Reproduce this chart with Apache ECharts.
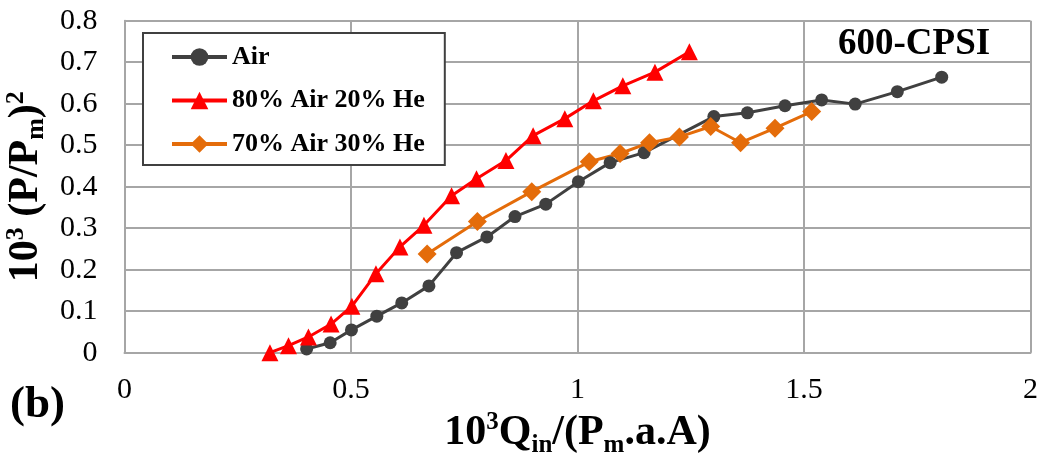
<!DOCTYPE html>
<html>
<head>
<meta charset="utf-8">
<script src="https://cdn.jsdelivr.net/npm/echarts@6/dist/echarts.min.js"></script>
<style>
  html, body { margin: 0; padding: 0; background: #ffffff; }
  #chart { width: 1043px; height: 459px; }
</style>
</head>
<body>
<div id="chart"></div>
<script>
// Pressure drop vs. inlet flow, 600-CPSI substrate, three gas mixtures
const seriesNames = ['Air', '80% Air 20% He', '70% Air 30% He'];

const airX = [0.402, 0.454, 0.501, 0.557, 0.612, 0.672, 0.733, 0.800, 0.862, 0.930, 1.002,
              1.072, 1.147, 1.301, 1.375, 1.458, 1.539, 1.613, 1.706, 1.804];
const airY = [0.009, 0.024, 0.055, 0.088, 0.120, 0.161, 0.241, 0.279, 0.328, 0.358, 0.412,
              0.458, 0.482, 0.569, 0.578, 0.595, 0.609, 0.599, 0.629, 0.664];

const he20X = [0.321, 0.362, 0.406, 0.456, 0.502, 0.555, 0.608, 0.661, 0.722, 0.777, 0.842,
               0.902, 0.972, 1.035, 1.100, 1.171, 1.247];
const he20Y = [0.000, 0.017, 0.038, 0.069, 0.112, 0.190, 0.255, 0.307, 0.378, 0.419, 0.463,
               0.523, 0.564, 0.607, 0.643, 0.676, 0.725];

const he30X = [0.668, 0.779, 0.899, 1.026, 1.094, 1.159, 1.225, 1.294, 1.360, 1.436, 1.517];
const he30Y = [0.238, 0.316, 0.388, 0.460, 0.480, 0.506, 0.520, 0.545, 0.506, 0.541, 0.581];

const pair = (xs, ys) => xs.map((x, i) => [x, ys[i]]);

const gridColor = '#a6a6a6';
const serif = '"Liberation Serif", "Times New Roman", serif';

const chart = echarts.init(document.getElementById('chart'), null, { renderer: 'canvas' });

chart.setOption({
  animation: false,
  backgroundColor: '#ffffff',
  grid: { left: 124.5, right: 12.5, top: 20.7, bottom: 106.3, containLabel: false, outerBoundsMode: 'none' },
  legend: {
    orient: 'vertical',
    left: 143,
    top: 33,
    padding: [11, 20, 8, 27],
    itemGap: 17.5,
    itemWidth: 55,
    itemHeight: 22,
    backgroundColor: '#ffffff',
    borderColor: '#404040',
    borderWidth: 2,
    borderRadius: 0,
    lineStyle: { width: 4 },
    textStyle: { fontFamily: serif, fontWeight: 'bold', fontSize: 26, color: '#000000' },
    data: seriesNames
  },
  xAxis: {
    type: 'value',
    min: 0, max: 2, interval: 0.5,
    axisLine: { show: true, lineStyle: { color: gridColor, width: 2 } },
    axisTick: { show: false },
    splitLine: { show: true, lineStyle: { color: gridColor, width: 2 } },
    axisLabel: { fontFamily: serif, fontSize: 30, color: '#000000', margin: 22 },
    name: '{b|10}{sup|3}{b|Q}{sub|in}{b|/(P}{sub|m}{b|.a.A)}',
    nameLocation: 'middle',
    nameGap: 54,
    nameTextStyle: {
      rich: {
        b: { fontFamily: serif, fontWeight: 'bold', fontSize: 42, color: '#000000', lineHeight: 48 },
        sup: { fontFamily: serif, fontWeight: 'bold', fontSize: 25, color: '#000000', verticalAlign: 'top', lineHeight: 48, padding: [0, 0, 10, 0] },
        sub: { fontFamily: serif, fontWeight: 'bold', fontSize: 25, color: '#000000', verticalAlign: 'bottom', lineHeight: 48, padding: [10, 0, 0, 0] }
      }
    }
  },
  yAxis: {
    type: 'value',
    min: 0, max: 0.8, interval: 0.1,
    axisLine: { show: true, lineStyle: { color: gridColor, width: 2 } },
    axisTick: { show: false },
    splitLine: { show: true, lineStyle: { color: gridColor, width: 2 } },
    axisLabel: { fontFamily: serif, fontSize: 30, color: '#000000', margin: 27 },
    name: '{b|10}{sup|3}{b| (P/P}{sub|m}{b|)}{sup|2}',
    nameLocation: 'middle',
    nameRotate: 90,
    nameGap: 60,
    nameTextStyle: {
      rich: {
        b: { fontFamily: serif, fontWeight: 'bold', fontSize: 42, color: '#000000', lineHeight: 46 },
        sup: { fontFamily: serif, fontWeight: 'bold', fontSize: 26, color: '#000000', verticalAlign: 'top', lineHeight: 46, padding: [0, 0, 10, 0] },
        sub: { fontFamily: serif, fontWeight: 'bold', fontSize: 26, color: '#000000', verticalAlign: 'bottom', lineHeight: 46, padding: [10, 0, 0, 0] }
      }
    }
  },
  graphic: [
    {
      type: 'text', left: 838, top: 26,
      style: { text: '600-CPSI', fontFamily: serif, fontWeight: 'bold', fontSize: 37, fill: '#000000' }
    },
    {
      type: 'text', left: 10, top: 383,
      style: { text: '(b)', fontFamily: serif, fontWeight: 'bold', fontSize: 45, fill: '#000000' }
    }
  ],
  series: [
    {
      name: seriesNames[0], type: 'line', data: pair(airX, airY),
      symbol: 'circle', symbolSize: 13,
      lineStyle: { color: '#404040', width: 3 },
      itemStyle: { color: '#404040' }
    },
    {
      name: seriesNames[1], type: 'line', data: pair(he20X, he20Y),
      symbol: 'triangle', symbolSize: 17,
      lineStyle: { color: '#ff0000', width: 3 },
      itemStyle: { color: '#ff0000' }
    },
    {
      name: seriesNames[2], type: 'line', data: pair(he30X, he30Y),
      symbol: 'diamond', symbolSize: 19,
      lineStyle: { color: '#e46c0a', width: 3 },
      itemStyle: { color: '#e46c0a' }
    }
  ]
});
</script>
</body>
</html>
